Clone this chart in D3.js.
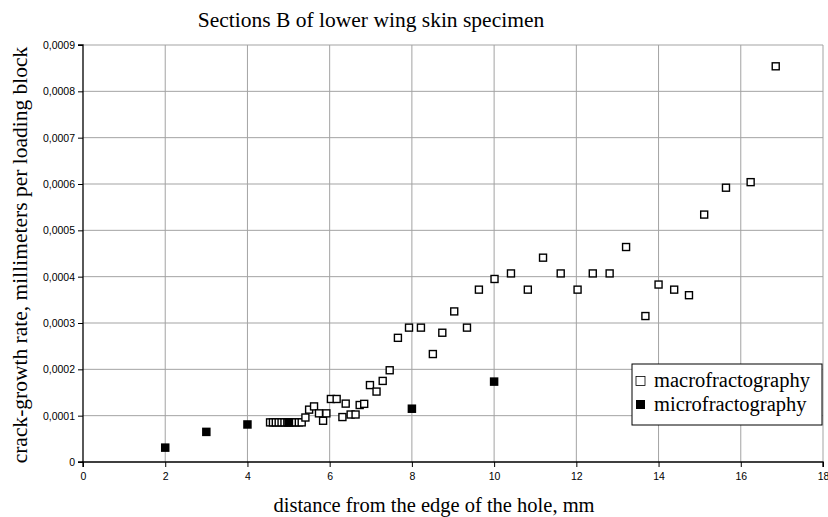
<!DOCTYPE html>
<html>
<head>
<meta charset="utf-8">
<script src="https://cdn.jsdelivr.net/npm/d3@7"></script>
<style>
  body { margin: 0; background: #fff; }
  svg { display: block; }
</style>
</head>
<body>
<div id="chart"></div>
<script>
// macrofractography points (distance mm, rate mm/block)
const macroX = [4.55, 4.62, 4.69, 4.76, 4.83, 4.90, 4.97, 5.04, 5.11, 5.18, 5.25, 5.32,
    5.41, 5.50, 5.62, 5.74, 5.84, 5.92, 6.03, 6.17, 6.31, 6.39, 6.51, 6.63, 6.73, 6.84,
    6.98, 7.14, 7.29, 7.46, 7.66, 7.93, 8.22, 8.51, 8.74, 9.03, 9.34, 9.63, 10.01, 10.41,
    10.82, 11.19, 11.62, 12.03, 12.40, 12.81, 13.21, 13.68, 14.00, 14.38, 14.74, 15.11,
    15.64, 16.24, 16.85];
const macroY = [0.0000855, 0.0000855, 0.0000855, 0.0000855, 0.0000855, 0.0000855, 0.0000855,
    0.0000855, 0.0000855, 0.0000855, 0.0000855, 0.0000855,
    0.000096, 0.000113, 0.000120, 0.000105, 0.000089, 0.000105, 0.000136, 0.000136, 0.000097,
    0.000126, 0.0001025, 0.0001025, 0.000123, 0.0001255, 0.000166, 0.000152, 0.000175,
    0.000198, 0.000268, 0.000290, 0.000290, 0.000233, 0.000279, 0.000325, 0.000290,
    0.000372, 0.000395, 0.000407, 0.000372, 0.000441, 0.000407, 0.000372, 0.000407,
    0.000407, 0.000464, 0.000315, 0.000383, 0.000372, 0.000360, 0.000534, 0.000592,
    0.000604, 0.000854];

// microfractography points
const microX = [2, 3, 4, 5, 8, 10];
const microY = [0.000031, 0.000065, 0.000081, 0.0000855, 0.000115, 0.0001735];

const xTicks = [0, 2, 4, 6, 8, 10, 12, 14, 16, 18];
const yTicks = [0, 0.0001, 0.0002, 0.0003, 0.0004, 0.0005, 0.0006, 0.0007, 0.0008, 0.0009];

const titleText = "Sections B of lower wing skin specimen";
const xLabel = "distance from the edge of the hole, mm";
const yLabel = "crack-growth rate, millimeters per loading block";
const seriesNames = ["macrofractography", "microfractography"];

const W = 828, H = 517;
const margin = { top: 45, right: 5, bottom: 55, left: 83 };
const width = W - margin.left - margin.right,
    height = H - margin.top - margin.bottom;

const serif = "'Liberation Serif', 'Times New Roman', serif";
const sans = "'Liberation Sans', Arial, sans-serif";
const GRID = "#a3a3a3";
const labelSize = 20.5;

const svg = d3.select("#chart")
    .append("svg")
    .attr("width", W)
    .attr("height", H);

const g = svg.append("g")
    .attr("transform", `translate(${margin.left},${margin.top})`);

const xScale = d3.scaleLinear().domain([0, 18]).range([0, width]);
const yScale = d3.scaleLinear().domain([0, 0.0009]).range([height, 0]);

const locale = d3.formatLocale({ decimal: ",", thousands: ".", grouping: [3], currency: ["", ""] });
const fmtY = d => d === 0 ? "0" : locale.format(".4f")(d);

// grid lines
g.append("g").selectAll("line")
    .data(yTicks.filter(d => d > 0))
    .enter().append("line")
    .attr("x1", 0).attr("x2", width)
    .attr("y1", d => yScale(d)).attr("y2", d => yScale(d))
    .attr("stroke", GRID).attr("stroke-width", 1);

g.append("g").selectAll("line")
    .data(xTicks.filter(d => d > 0))
    .enter().append("line")
    .attr("x1", d => xScale(d)).attr("x2", d => xScale(d))
    .attr("y1", 0).attr("y2", height)
    .attr("stroke", GRID).attr("stroke-width", 1);

// axes
const axisX = d3.axisBottom(xScale)
    .tickValues(xTicks)
    .tickSize(5)
    .tickPadding(6)
    .tickFormat(d3.format("d"));

const axisY = d3.axisLeft(yScale)
    .tickValues(yTicks)
    .tickSize(5)
    .tickPadding(3)
    .tickFormat(fmtY);

const gx = g.append("g")
    .attr("transform", `translate(0,${height})`)
    .call(axisX);
const gy = g.append("g").call(axisY);

[gx, gy].forEach(a => {
    a.select(".domain").attr("stroke", "#000").attr("stroke-width", 1.3);
    a.selectAll(".tick line").attr("stroke", "#000");
    a.selectAll(".tick text")
        .attr("font-family", sans)
        .attr("font-size", 10.5)
        .attr("fill", "#000");
});
gx.select(".domain").attr("d", `M0,5V0H${width}V5`);
gy.select(".domain").attr("d", `M-5,0H0V${height}H-5`);

// points
const sq = 7;
g.append("g").attr("class", "macro")
    .selectAll("rect")
    .data(macroX.map((x, i) => [x, macroY[i]]))
    .enter().append("rect")
    .attr("x", d => xScale(d[0]) - sq / 2)
    .attr("y", d => yScale(d[1]) - sq / 2)
    .attr("width", sq).attr("height", sq)
    .attr("fill", "#fff")
    .attr("stroke", "#000")
    .attr("stroke-width", 1.4);

const fq = 8.5;
g.append("g").attr("class", "micro")
    .selectAll("rect")
    .data(microX.map((x, i) => [x, microY[i]]))
    .enter().append("rect")
    .attr("x", d => xScale(d[0]) - fq / 2)
    .attr("y", d => yScale(d[1]) - fq / 2)
    .attr("width", fq).attr("height", fq)
    .attr("fill", "#000");

// title and axis labels
svg.append("text")
    .attr("x", 371).attr("y", 27)
    .attr("text-anchor", "middle")
    .attr("font-family", serif)
    .attr("font-size", 21.5)
    .text(titleText);

svg.append("text")
    .attr("x", 434).attr("y", 512)
    .attr("text-anchor", "middle")
    .attr("font-family", serif)
    .attr("font-size", labelSize)
    .text(xLabel);

svg.append("text")
    .attr("transform", `translate(27,255) rotate(-90)`)
    .attr("text-anchor", "middle")
    .attr("font-family", serif)
    .attr("font-size", 21.5)
    .text(yLabel);

// legend
const legend = svg.append("g").attr("transform", "translate(632,364)");
legend.append("rect")
    .attr("width", 190).attr("height", 61)
    .attr("fill", "#fff")
    .attr("stroke", "#000")
    .attr("stroke-width", 1);

const items = legend.selectAll("g.item")
    .data(seriesNames)
    .enter().append("g")
    .attr("class", "item")
    .attr("transform", (d, i) => `translate(0,${17 + i * 23.5})`);

items.append("rect")
    .attr("x", 4).attr("y", -4.5)
    .attr("width", 9).attr("height", 9)
    .attr("fill", (d, i) => i === 0 ? "#fff" : "#000")
    .attr("stroke", "#000")
    .attr("stroke-width", (d, i) => i === 0 ? 0.8 : 0);

items.append("text")
    .attr("x", 22).attr("y", 6)
    .attr("font-family", serif)
    .attr("font-size", labelSize)
    .text(d => d);
</script>
</body>
</html>
